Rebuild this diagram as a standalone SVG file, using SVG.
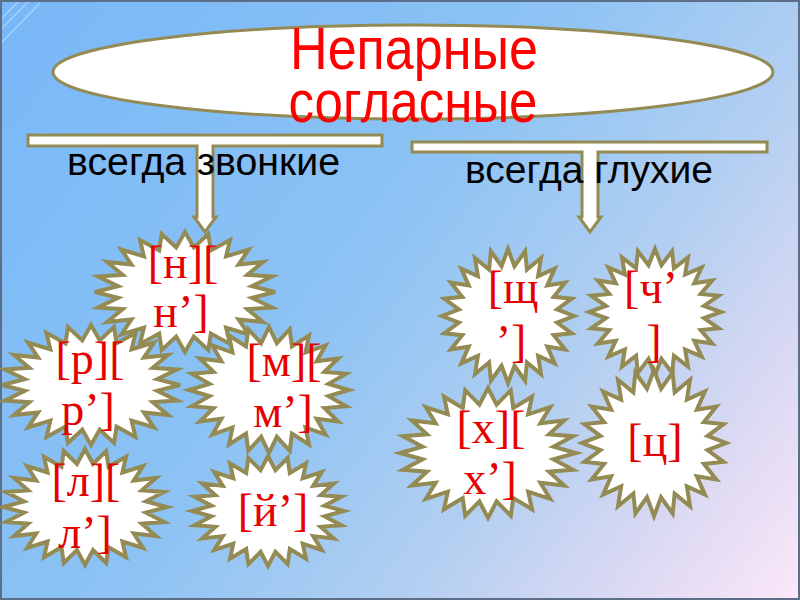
<svg xmlns="http://www.w3.org/2000/svg" xmlns:xlink="http://www.w3.org/1999/xlink" width="800" height="600" viewBox="0 0 800 600">
<defs>
<linearGradient id="bg" gradientUnits="userSpaceOnUse" x1="0" y1="0" x2="800" y2="600">
<stop offset="0" stop-color="#78b7f8"/>
<stop offset="0.45" stop-color="#8dc3f4"/>
<stop offset="0.68" stop-color="#b2cff1"/>
<stop offset="0.85" stop-color="#dbd9f3"/>
<stop offset="1" stop-color="#fce7f8"/>
</linearGradient>
<polygon id="star" vector-effect="non-scaling-stroke" points="0,-100 9.79,-74.36 25.88,-96.59 28.7,-69.29 50,-86.6 45.66,-59.5 70.71,-70.71 59.5,-45.66 86.6,-50 69.29,-28.7 96.59,-25.88 74.36,-9.79 100,0 74.36,9.79 96.59,25.88 69.29,28.7 86.6,50 59.5,45.66 70.71,70.71 45.66,59.5 50,86.6 28.7,69.29 25.88,96.59 9.79,74.36 0,100 -9.79,74.36 -25.88,96.59 -28.7,69.29 -50,86.6 -45.66,59.5 -70.71,70.71 -59.5,45.66 -86.6,50 -69.29,28.7 -96.59,25.88 -74.36,9.79 -100,0 -74.36,-9.79 -96.59,-25.88 -69.29,-28.7 -86.6,-50 -59.5,-45.66 -70.71,-70.71 -45.66,-59.5 -50,-86.6 -28.7,-69.29 -25.88,-96.59 -9.79,-74.36"/>
<style>
.st{fill:#fff;stroke:#948a54;stroke-width:4;stroke-linejoin:miter}
.ph{font-family:"Liberation Serif","Times New Roman",serif;font-size:46px;fill:#e60000;text-anchor:middle}
.ttl{font-family:"Liberation Sans",Arial,sans-serif;font-size:60px;fill:#ff0000;text-anchor:middle}
.lbl{font-family:"Liberation Sans",Arial,sans-serif;font-size:38px;fill:#000}
.con{fill:#fff;stroke:#948a54;stroke-width:3;stroke-linejoin:miter}
</style>
</defs>
<rect x="0" y="0" width="800" height="600" fill="url(#bg)"/>
<g stroke="#ffffff" stroke-opacity="0.35" stroke-width="1.5">
<line x1="0" y1="20" x2="20" y2="0"/>
<line x1="0" y1="30" x2="30" y2="0"/>
<line x1="2" y1="42" x2="40" y2="3"/>
</g>
<rect x="1" y="1" width="798" height="598" fill="none" stroke="#5d6e88" stroke-width="2"/>

<g id="title">
<ellipse cx="413" cy="72" rx="360" ry="47" fill="#fff" stroke="#948a54" stroke-width="3"/>
<text class="ttl" x="414" y="69" textLength="248" lengthAdjust="spacingAndGlyphs">Непарные</text>
<text class="ttl" x="413" y="122" textLength="249" lengthAdjust="spacingAndGlyphs">согласные</text>
</g>

<g id="node-n">
<use xlink:href="#star" class="st" transform="translate(185,292) scale(0.9,0.6)"/>
<text class="ph" x="183" y="278">[н][</text>
<text class="ph" x="181" y="327">н’]</text>
</g>
<g id="node-r">
<use xlink:href="#star" class="st" transform="translate(91,385) scale(0.89,0.6)"/>
<text class="ph" x="90" y="374">[р][</text>
<text class="ph" x="88" y="425">р’]</text>
</g>
<g id="node-m">
<use xlink:href="#star" class="st" transform="translate(269,390) scale(0.8,0.63)"/>
<text class="ph" x="284" y="376">[м][</text>
<text class="ph" x="283" y="427">м’]</text>
</g>
<g id="node-l">
<use xlink:href="#star" class="st" transform="translate(85,507) scale(0.82,0.58)"/>
<text class="ph" x="86" y="496">[л][</text>
<text class="ph" x="85" y="548">л’]</text>
</g>
<g id="node-y">
<use xlink:href="#star" class="st" transform="translate(268,511) scale(0.76,0.55)"/>
<text class="ph" x="273" y="526">[й’]</text>
</g>
<g id="node-shch">
<use xlink:href="#star" class="st" transform="translate(508,316) scale(0.66,0.67)"/>
<text class="ph" x="513" y="303">[щ</text>
<text class="ph" x="511" y="357">’]</text>
</g>
<g id="node-ch">
<use xlink:href="#star" class="st" transform="translate(655,312) scale(0.66,0.63)"/>
<text class="ph" x="651" y="303">[ч’</text>
<text class="ph" x="654" y="357">]</text>
</g>
<g id="node-kh">
<use xlink:href="#star" class="st" transform="translate(488,453) scale(0.88,0.65)"/>
<text class="ph" x="491" y="443">[х][</text>
<text class="ph" x="490" y="494">х’]</text>
</g>
<g id="node-ts">
<use xlink:href="#star" class="st" transform="translate(654,443) scale(0.72,0.73)"/>
<text class="ph" x="655" y="456">[ц]</text>
</g>

<g id="connectors">
<path class="con" d="M28,135 H382 V146 H213 V217 H216 L205,232 L194,217 H197 V146 H28 Z"/>
<path class="con" d="M412,142 H767 V152 H598 V217 H601 L590,232 L579,217 H582 V152 H412 Z"/>
</g>

<g id="labels">
<text class="lbl" x="67" y="175" textLength="273" lengthAdjust="spacingAndGlyphs">всегда звонкие</text>
<text class="lbl" x="465" y="183" textLength="248" lengthAdjust="spacingAndGlyphs">всегда глухие</text>
</g>
</svg>
